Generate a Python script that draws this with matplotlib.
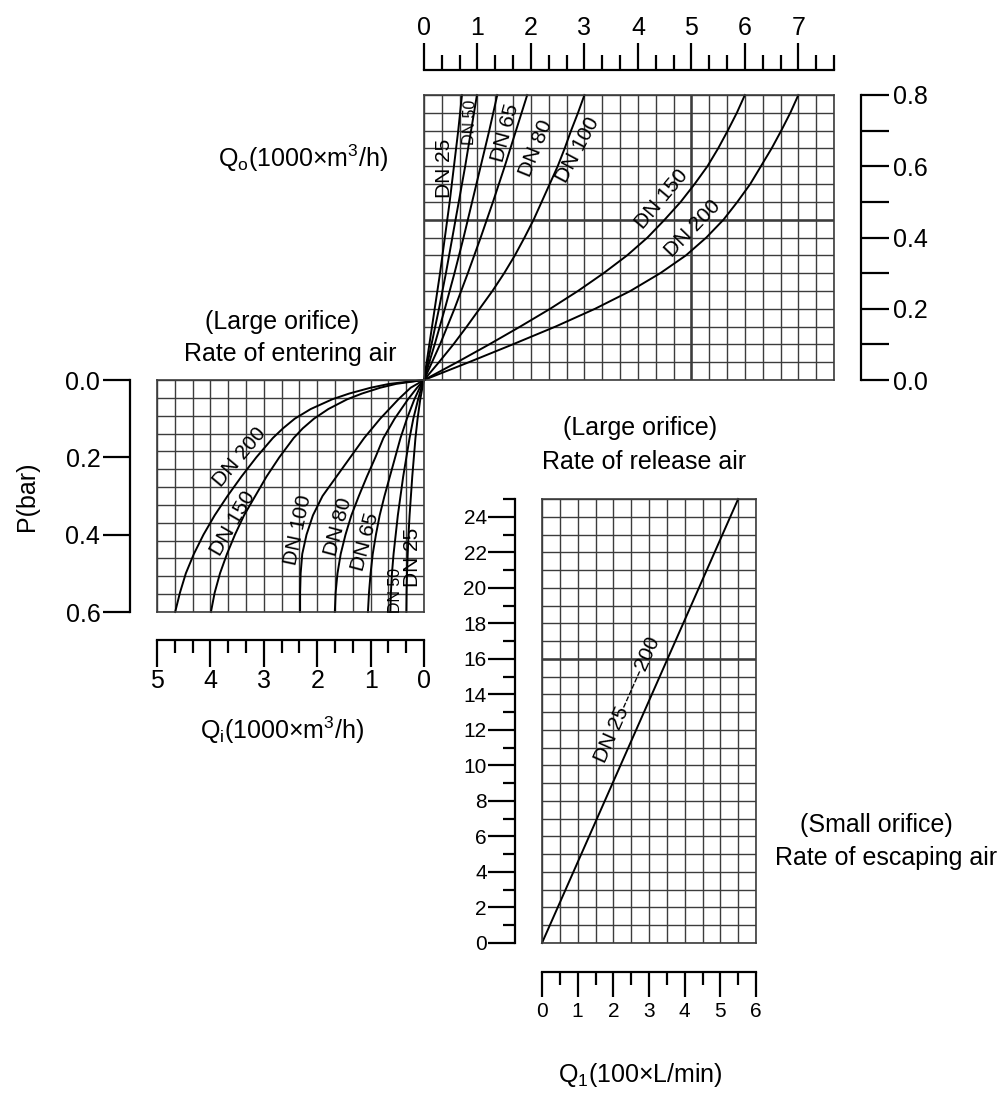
import numpy as np
import matplotlib
matplotlib.use("Agg")
import matplotlib.pyplot as plt

plt.rcParams['font.family'] = ['Liberation Sans', 'DejaVu Sans']
plt.rcParams['mathtext.fontset'] = 'custom'
plt.rcParams['mathtext.rm'] = 'Liberation Sans'

# ---------------- data ----------------
# Large orifice, rate of release air: P (bar) vs Q_o (1000 m3/h)
out_p = [0, 0.1, 0.2, 0.3, 0.4, 0.5, 0.6, 0.7, 0.8]
out_dn25 = [0, 0.10, 0.20, 0.30, 0.39, 0.48, 0.56, 0.64, 0.71]
out_dn50 = [0, 0.14, 0.28, 0.41, 0.53, 0.65, 0.77, 0.88, 0.99]
out_dn65 = [0, 0.20, 0.39, 0.57, 0.74, 0.90, 1.06, 1.22, 1.37]
out_dn80 = [0, 0.30, 0.57, 0.82, 1.06, 1.29, 1.51, 1.72, 1.93]
out_p_fine = [0, 0.05, 0.1, 0.15, 0.2, 0.25, 0.3, 0.35, 0.4, 0.45, 0.5, 0.55, 0.6, 0.65, 0.7, 0.75, 0.8]
out_dn100 = [0, 0.28, 0.55, 0.80, 1.04, 1.28, 1.50, 1.70, 1.88, 2.05, 2.20, 2.35, 2.50, 2.63, 2.75, 2.88, 3.00]
out_dn150 = [0, 0.62, 1.22, 1.80, 2.36, 2.88, 3.36, 3.80, 4.18, 4.50, 4.80, 5.06, 5.30, 5.50, 5.68, 5.85, 6.00]
out_dn200 = [0, 0.84, 1.66, 2.46, 3.20, 3.86, 4.42, 4.90, 5.28, 5.60, 5.86, 6.10, 6.30, 6.50, 6.68, 6.85, 7.00]

# Large orifice, rate of entering air: P (bar) vs Q_i (1000 m3/h)
in_p_big = [0, 0.01, 0.02, 0.035, 0.05, 0.075, 0.1, 0.125, 0.15, 0.2, 0.25, 0.3, 0.35, 0.4, 0.45, 0.5, 0.55, 0.6]
in_dn200 = [0, 0.65, 1.00, 1.40, 1.72, 2.12, 2.42, 2.64, 2.83, 3.14, 3.42, 3.68, 3.92, 4.13, 4.31, 4.46, 4.57, 4.66]
in_dn150 = [0, 0.52, 0.82, 1.16, 1.44, 1.79, 2.06, 2.27, 2.44, 2.71, 2.95, 3.16, 3.37, 3.54, 3.69, 3.82, 3.92, 3.99]
in_p_small = [0, 0.02, 0.05, 0.1, 0.15, 0.2, 0.25, 0.3, 0.35, 0.4, 0.45, 0.5, 0.55, 0.6]
in_dn100 = [0, 0.25, 0.48, 0.82, 1.12, 1.38, 1.64, 1.90, 2.08, 2.20, 2.28, 2.31, 2.32, 2.32]
in_dn80 = [0, 0.13, 0.30, 0.55, 0.76, 0.91, 1.07, 1.22, 1.36, 1.47, 1.56, 1.62, 1.655, 1.67]
in_dn65 = [0, 0.08, 0.18, 0.32, 0.44, 0.54, 0.64, 0.74, 0.83, 0.90, 0.96, 1.00, 1.03, 1.05]
in_dn50 = [0, 0.05, 0.11, 0.20, 0.27, 0.33, 0.39, 0.44, 0.49, 0.53, 0.57, 0.60, 0.62, 0.63]
in_dn25 = [0, 0.03, 0.07, 0.12, 0.16, 0.19, 0.22, 0.245, 0.27, 0.29, 0.305, 0.318, 0.326, 0.33]

# Small orifice, rate of escaping air: Q_1 (100 L/min)
esc_q = [0, 5.5]
esc_p = [0, 25]

# tick labels
top_ticks = [0, 1, 2, 3, 4, 5, 6, 7]
right_ticks = [0.0, 0.2, 0.4, 0.6, 0.8]
p_ticks = [0.0, 0.2, 0.4, 0.6]
left_ruler_ticks = [0, 1, 2, 3, 4, 5]
br_y_ticks = list(range(0, 25, 2))
br_x_ticks = [0, 1, 2, 3, 4, 5, 6]

# ---------------- layout ----------------
W, H = 1007, 1095
fig = plt.figure(figsize=(W / 100, H / 100), dpi=100)
fig.patch.set_facecolor('white')

LC = 'black'
GC = '#3c3c3c'


def pax(x0, y0, x1, y1):
    return fig.add_axes([x0 / W, 1 - y1 / H, (x1 - x0) / W, (y1 - y0) / H])


def fx(x):
    return x / W


def fy(y):
    return 1 - y / H


def grid_axes(ax, xl, yl):
    ax.set_xticks(xl)
    ax.set_yticks(yl)
    ax.tick_params(length=0, labelbottom=False, labelleft=False)
    ax.grid(True, color=GC, lw=1.0)
    ax.set_axisbelow(True)
    for s in ax.spines.values():
        s.set_color(GC)
        s.set_linewidth(1.2)
    ax.patch.set_visible(False)


def ruler(ax, side):
    for s in ['left', 'right', 'top', 'bottom']:
        ax.spines[s].set_visible(s == side)
    ax.spines[side].set_linewidth(1.6)
    ax.patch.set_visible(False)


# ---- top-right: outflow ----
ax1 = pax(424, 95, 834, 380)
ax1.set_xlim(0, 23 / 3)
ax1.set_ylim(0, 0.8)
grid_axes(ax1, np.arange(0, 24) / 3, np.arange(0, 17) * 0.05)
ax1.axvline(5, color=GC, lw=1.8)
ax1.axhline(0.45, color=GC, lw=1.8)
for q in [out_dn25, out_dn50, out_dn65, out_dn80]:
    ax1.plot(q, out_p, color=LC, lw=1.4, clip_on=False)
for q in [out_dn100, out_dn150, out_dn200]:
    ax1.plot(q, out_p_fine, color=LC, lw=1.4, clip_on=False)

# top ruler
axt = pax(424, 70, 834, 80)
ruler(axt, 'top')
axt.set_xlim(0, 23 / 3)
axt.xaxis.set_ticks_position('top')
axt.set_xticks(top_ticks)
axt.set_xticklabels([str(t) for t in top_ticks])
axt.set_xticks([k / 3 for k in range(24) if k % 3], minor=True)
axt.tick_params(which='major', direction='out', length=19.4, width=1.6, pad=2.5, labelsize=18)
axt.tick_params(which='minor', direction='out', length=10.8, width=1.6)
axt.set_yticks([])

# right P axis
axr = pax(851, 95, 861, 380)
ruler(axr, 'right')
axr.set_ylim(0, 0.8)
axr.yaxis.set_ticks_position('right')
axr.set_yticks(right_ticks)
axr.set_yticklabels([f'{t:.1f}' for t in right_ticks])
axr.set_yticks([0.1, 0.3, 0.5, 0.7], minor=True)
axr.tick_params(which='both', direction='out', length=20, width=1.6, pad=3, labelsize=18)
axr.set_xticks([])

# ---- left: inflow ----
ax2 = pax(157, 380, 424, 612)
ax2.set_xlim(5, 0)
ax2.set_ylim(0.6, 0)
grid_axes(ax2, np.arange(0, 16) / 3, np.linspace(0, 0.6, 14))
for q, p in [(in_dn200, in_p_big), (in_dn150, in_p_big), (in_dn100, in_p_small),
             (in_dn80, in_p_small), (in_dn65, in_p_small), (in_dn50, in_p_small),
             (in_dn25, in_p_small)]:
    ax2.plot(q, p, color=LC, lw=1.4, clip_on=False)

# P(bar) axis
axp = pax(130, 380, 140, 612)
ruler(axp, 'left')
axp.set_ylim(0.6, 0)
axp.set_yticks(p_ticks)
axp.set_yticklabels([f'{t:.1f}' for t in p_ticks])
axp.tick_params(direction='out', length=19.4, width=1.6, pad=2, labelsize=18)
axp.set_xticks([])

# left bottom ruler
axl = pax(157, 630, 424, 640)
ruler(axl, 'bottom')
axl.set_xlim(5, 0)
axl.set_xticks(left_ruler_ticks)
axl.set_xticklabels([str(t) for t in left_ruler_ticks])
axl.set_xticks([k / 3 for k in range(16) if k % 3], minor=True)
axl.tick_params(which='major', direction='out', length=19.4, width=1.6, pad=1.5, labelsize=18)
axl.tick_params(which='minor', direction='out', length=9.4, width=1.6)
axl.set_yticks([])

# ---- bottom-right: small orifice ----
ax3 = pax(542, 499, 756, 943)
ax3.set_xlim(0, 6)
ax3.set_ylim(0, 25)
grid_axes(ax3, np.arange(0, 13) * 0.5, np.arange(0, 26))
ax3.axhline(16, color=GC, lw=1.8)
ax3.plot(esc_q, esc_p, color=LC, lw=1.4, clip_on=False)

axy = pax(515, 499, 525, 943)
ruler(axy, 'left')
axy.set_ylim(0, 25)
axy.set_yticks(br_y_ticks)
axy.set_yticklabels([str(t) for t in br_y_ticks])
axy.set_yticks(list(range(1, 26, 2)), minor=True)
axy.tick_params(which='major', direction='out', length=19.4, width=1.6, pad=1, labelsize=15)
axy.tick_params(which='minor', direction='out', length=8.6, width=1.6)
axy.set_xticks([])

axb = pax(542, 962, 756, 972)
ruler(axb, 'bottom')
axb.set_xlim(0, 6)
axb.set_xticks(br_x_ticks)
axb.set_xticklabels([str(t) for t in br_x_ticks])
axb.set_xticks([k * 0.5 for k in range(13) if k % 2], minor=True)
axb.tick_params(which='major', direction='out', length=18, width=1.6, pad=3.5, labelsize=15)
axb.tick_params(which='minor', direction='out', length=9.4, width=1.6)
axb.set_yticks([])

# ---------------- curve labels ----------------
LF = ['Liberation Sans Narrow', 'Liberation Sans', 'DejaVu Sans']


def lab(s, x, y, rot, size=15):
    fig.text(fx(x), fy(y), s, rotation=rot, rotation_mode='anchor', ha='center',
             va='center', fontsize=size, family=LF, color=LC)


# top-right
lab('DN 25', 445, 168, 90)
lab('DN 50', 470, 122, 88, 11.5)
lab('DN 65', 505, 133, 75)
lab('DN 80', 536, 148, 68)
lab('DN 100', 578, 150, 62)
lab('DN 150', 662, 199, 50)
lab('DN 200', 693, 229, 46)
# left
lab('DN 200', 240, 457, 50)
lab('DN 150', 233, 523, 60)
lab('DN 100', 298, 530, 78)
lab('DN 80', 338, 527, 75)
lab('DN 65', 365, 542, 75)
lab('DN 50', 395, 590, 90, 11.5)
lab('DN 25', 413, 557, 90)
# bottom-right
lab('DN 25------200', 628, 700, 66, 15)

# ---------------- titles ----------------
TS = 18
fig.text(fx(303), fy(158), r'Q$_\mathregular{o}$(1000×m$^\mathregular{3}$/h)', ha='center', va='center', fontsize=TS)
fig.text(fx(282), fy(322), '(Large orifice)', ha='center', va='center', fontsize=TS)
fig.text(fx(290), fy(354), 'Rate of entering air', ha='center', va='center', fontsize=TS)
fig.text(fx(640), fy(428), '(Large orifice)', ha='center', va='center', fontsize=TS)
fig.text(fx(644), fy(462), 'Rate of release air', ha='center', va='center', fontsize=TS)
fig.text(fx(876), fy(825), '(Small orifice)', ha='center', va='center', fontsize=TS)
fig.text(fx(886), fy(858), 'Rate of escaping air', ha='center', va='center', fontsize=TS)
fig.text(fx(282), fy(730), r'Q$_\mathregular{i}$(1000×m$^\mathregular{3}$/h)', ha='center', va='center', fontsize=TS)
fig.text(fx(640), fy(1075), r'Q$_\mathregular{1}$(100×L/min)', ha='center', va='center', fontsize=TS)
fig.text(fx(27), fy(496), 'P(bar)', rotation=90, ha='center', va='center', fontsize=TS)

fig.savefig('out.png', dpi=100, facecolor='white')
